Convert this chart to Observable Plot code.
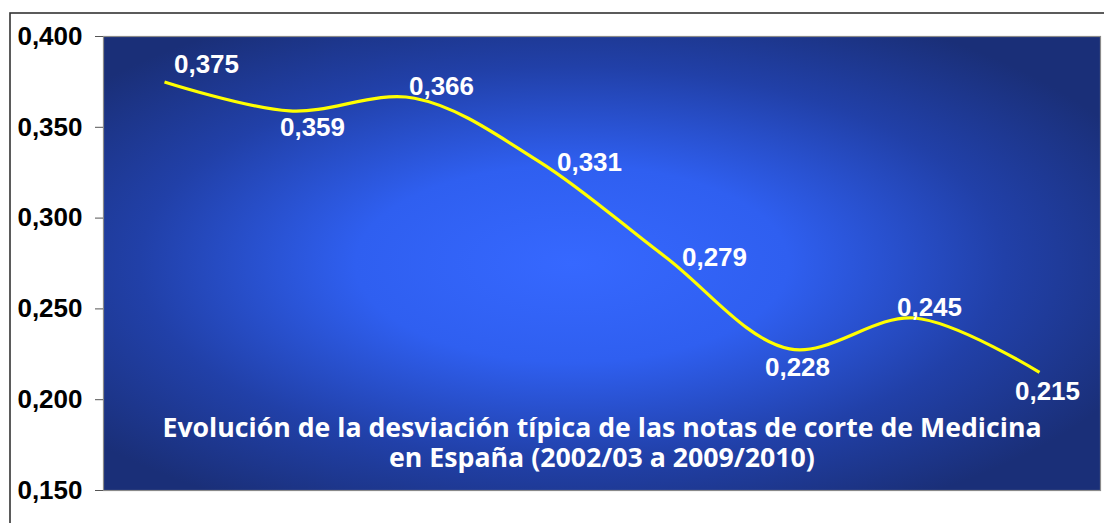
<!DOCTYPE html>
<html>
<head>
<meta charset="utf-8">
<script src="https://cdn.jsdelivr.net/npm/d3@7"></script>
<script src="https://cdn.jsdelivr.net/npm/@observablehq/plot@0.6"></script>
<style>
  html, body { margin: 0; padding: 0; background: #ffffff; }
  #chart svg { display: block; }
</style>
</head>
<body>
<div id="chart"></div>
<script>
const years = ["2002/03", "2003/04", "2004/05", "2005/06", "2006/07", "2007/08", "2008/09", "2009/10"];
const desviacion = [0.375, 0.359, 0.366, 0.331, 0.279, 0.228, 0.245, 0.215];
const yTicks = [0.150, 0.200, 0.250, 0.300, 0.350, 0.400];
const titleLines = [
  "Evolución de la desviación típica de las notas de corte de Medicina",
  "en España (2002/03 a 2009/2010)"
];

const data = years.map((year, i) => ({year, value: desviacion[i], i}));
const fmt = v => d3.format(".3f")(v).replace(".", ",");

const labelFont = {fontFamily: "'Liberation Sans', Arial, sans-serif", fontWeight: "bold", fontSize: 26};

function labels(indices, dx, dy) {
  return Plot.text(data.filter(d => indices.includes(d.i)), {
    x: "year", y: "value", text: d => fmt(d.value),
    dx, dy, fill: "white", ...labelFont, style: "letter-spacing:0.5px"
  });
}

function defs() {
  const d = d3.create("svg:defs");
  const rg = d.append("radialGradient").attr("id", "bgGrad")
    .attr("cx", "0.47").attr("cy", "0.5").attr("r", "0.62");
  rg.append("stop").attr("offset", "0%").attr("stop-color", "#3668ff");
  rg.append("stop").attr("offset", "35%").attr("stop-color", "#2f5ff0");
  rg.append("stop").attr("offset", "70%").attr("stop-color", "#2140a8");
  rg.append("stop").attr("offset", "100%").attr("stop-color", "#1a2f78");
  return d.node();
}

function outerFrame() {
  return d3.create("svg:rect")
    .attr("x", 10).attr("y", 13).attr("width", 1300).attr("height", 800)
    .attr("fill", "none").attr("stroke", "#333").attr("stroke-width", 1.6).node();
}

const chart = Plot.plot({
  width: 1104,
  height: 523,
  marginLeft: 103,
  marginRight: 4,
  marginTop: 36,
  marginBottom: 33,
  style: {background: "white", overflow: "visible"},
  x: {type: "point", domain: years, padding: 0.48, axis: null},
  y: {domain: [0.15, 0.4], label: null, axis: null},
  marks: [
    defs,
    outerFrame,
    Plot.frame({fill: "url(#bgGrad)", stroke: "#8a8a8a", strokeWidth: 1.2}),
    Plot.axisY(yTicks, {
      tickFormat: fmt, tickSize: 8, tickPadding: 13, label: null,
      stroke: "#555", fill: "black", ...labelFont, style: "letter-spacing:0.5px"
    }),
    Plot.line(data, {x: "year", y: "value", stroke: "#ffff00", strokeWidth: 3.2, curve: "catmull-rom", strokeLinecap: "butt"}),
    labels([0], 42, -17),
    labels([2], 27, -12),
    labels([3, 4], 50, 1),
    labels([1], 23, 17),
    labels([5, 7], 8, 19),
    labels([6], 15, -10),
    Plot.text([titleLines.join("\n")], {
      frameAnchor: "bottom", lineAnchor: "bottom", dy: -24, lineHeight: 1.1,
      fill: "white", fontFamily: "'Open Sans', Lato, sans-serif", fontWeight: "bold", fontSize: 26.7
    })
  ]
});

document.getElementById("chart").appendChild(chart);
</script>
</body>
</html>
